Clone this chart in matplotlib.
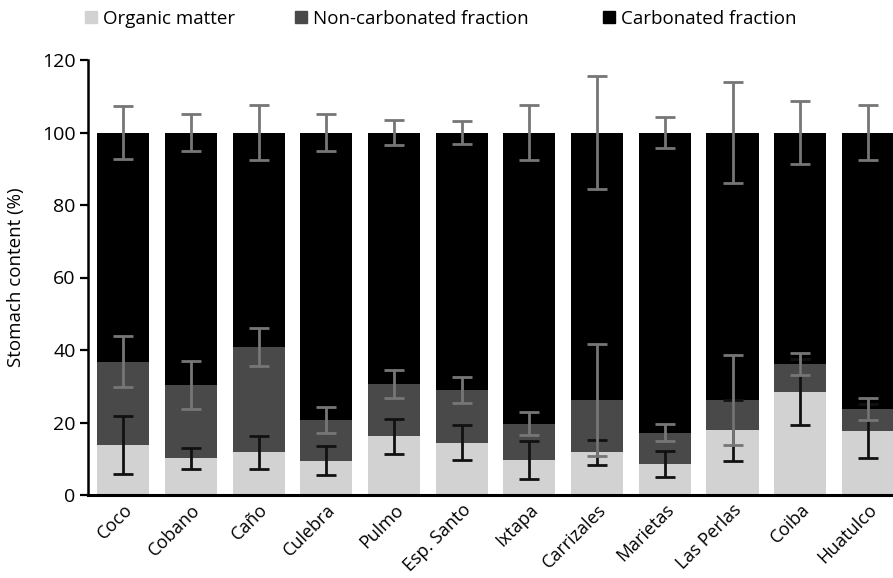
import numpy as np
import matplotlib
matplotlib.use("Agg")
import matplotlib.pyplot as plt
from matplotlib.patches import Patch

plt.rcParams["font.family"] = ["Open Sans", "DejaVu Sans"]

# dados (valores em %)
sites = ["Coco", "Cobano", "Caño", "Culebra", "Pulmo", "Esp. Santo", "Ixtapa",
         "Carrizales", "Marietas", "Las Perlas", "Coiba", "Huatulco"]
organic = [13.8, 10.2, 11.8, 9.4, 16.2, 14.4, 9.6, 11.8, 8.6, 17.8, 28.3, 17.6]
organic_err = [8.1, 2.9, 4.5, 4.0, 4.8, 4.8, 5.3, 3.5, 3.6, 8.4, 9.1, 7.4]
non_carbonated = [23.0, 20.1, 29.0, 11.4, 14.5, 14.6, 10.1, 14.4, 8.6, 8.4, 7.9, 6.1]
non_carbonated_err = [7.0, 6.7, 5.2, 3.6, 3.9, 3.5, 3.1, 15.5, 2.3, 12.3, 3.0, 3.0]
carbonated_err = [7.4, 5.0, 7.5, 5.0, 3.5, 3.2, 7.6, 15.6, 4.4, 13.9, 8.6, 7.7]

legend_labels = ["Organic matter", "Non-carbonated fraction", "Carbonated fraction"]
colors = ["#d2d2d2", "#494949", "black"]

organic = np.array(organic)
non_carbonated = np.array(non_carbonated)
cum_nc = organic + non_carbonated
carbonated = 100 - cum_nc

x = np.arange(len(sites))
w = 0.77

fig = plt.figure(figsize=(8.93, 5.78), dpi=100)
ax = fig.add_axes([88 / 893, 1 - 495 / 578, 1 - 88 / 893, 435 / 578])

ax.bar(x, organic, w, color=colors[0])
ax.bar(x, non_carbonated, w, bottom=organic, color=colors[1])
ax.bar(x, carbonated, w, bottom=cum_nc, color=colors[2])

ax.errorbar(x, organic, yerr=organic_err, fmt="none", ecolor="#111111",
            elinewidth=2, capsize=7, capthick=2)
ax.errorbar(x, cum_nc, yerr=non_carbonated_err, fmt="none", ecolor="#767676",
            elinewidth=2, capsize=7, capthick=2)
ax.errorbar(x, np.full(len(x), 100), yerr=carbonated_err, fmt="none", ecolor="#767676",
            elinewidth=2, capsize=7, capthick=2)

ax.set_xlim(-0.52, 11.37)
ax.set_ylim(0, 120)
ax.set_yticks(np.arange(0, 121, 20))
ax.set_xticks(x)
ax.set_xticklabels(sites, rotation=45, ha="right", rotation_mode="anchor", fontsize=13)
ax.tick_params(axis="y", labelsize=14, length=6, width=1.6, pad=3)
ax.tick_params(axis="x", length=0, pad=4)
ax.set_ylabel("Stomach content (%)", fontsize=13.5)
ax.yaxis.set_label_coords(-0.078, 0.5)

for s in ["top", "right"]:
    ax.spines[s].set_visible(False)
ax.spines["left"].set_linewidth(1.8)
ax.spines["bottom"].set_linewidth(2.2)

# legenda: uma entrada por vez para acertar a posição de cada quadrado
legend_x = [85, 295, 603]
for lab, col, lx in zip(legend_labels, colors, legend_x):
    leg = fig.legend([Patch(color=col)], [lab], loc="center left",
                     bbox_to_anchor=(lx / 893, 1 - 19 / 578), frameon=False,
                     fontsize=13.5, handlelength=0.62, handleheight=0.62,
                     handletextpad=0.35, borderaxespad=0, borderpad=0)

fig.savefig("out.png", dpi=100)
